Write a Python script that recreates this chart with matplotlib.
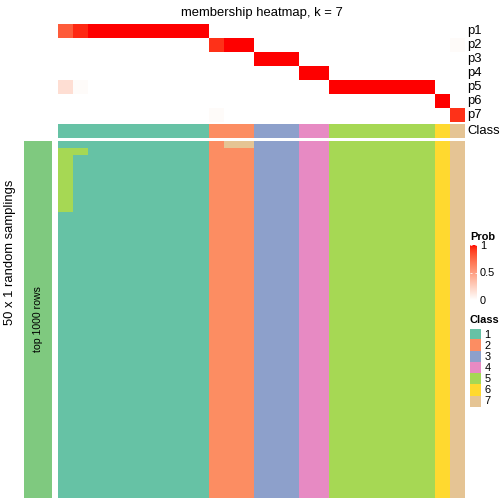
import numpy as np
import matplotlib
matplotlib.use("Agg")
import matplotlib.pyplot as plt
from matplotlib.colors import ListedColormap

plt.rcParams['font.family'] = ['Liberation Sans', 'DejaVu Sans']

# class of each column (27 samples)
col_class = [1] * 10 + [2] * 3 + [3] * 3 + [4] * 2 + [5] * 7 + [6] + [7]

# membership probabilities, one row per class
p1 = [0.80, 0.95, 1, 1, 1, 1, 1, 1, 1, 1, 0, 0, 0, 0, 0, 0, 0, 0, 0, 0, 0, 0, 0, 0, 0, 0, 0]
p2 = [0, 0, 0, 0, 0, 0, 0, 0, 0, 0, 0.93, 1, 1, 0, 0, 0, 0, 0, 0, 0, 0, 0, 0, 0, 0, 0, 0.02]
p3 = [0, 0, 0, 0, 0, 0, 0, 0, 0, 0, 0, 0, 0, 1, 1, 1, 0, 0, 0, 0, 0, 0, 0, 0, 0, 0, 0]
p4 = [0, 0, 0, 0, 0, 0, 0, 0, 0, 0, 0, 0, 0, 0, 0, 0, 1, 1, 0, 0, 0, 0, 0, 0, 0, 0, 0]
p5 = [0.17, 0.02, 0, 0, 0, 0, 0, 0, 0, 0, 0, 0, 0, 0, 0, 0, 0, 0, 1, 1, 1, 1, 1, 1, 1, 0, 0]
p6 = [0, 0, 0, 0, 0, 0, 0, 0, 0, 0, 0, 0, 0, 0, 0, 0, 0, 0, 0, 0, 0, 0, 0, 0, 0, 1, 0]
p7 = [0, 0, 0, 0, 0, 0, 0, 0, 0, 0, 0.02, 0, 0, 0, 0, 0, 0, 0, 0, 0, 0, 0, 0, 0, 0, 0, 0.93]
row_labels = ["p1", "p2", "p3", "p4", "p5", "p6", "p7"]

# 50 random samplings; they agree with col_class except these (row, col, class)
n_samplings = 50
sampling_changes = [(0, 11, 7), (0, 12, 7), (1, 1, 5)] + [(r, 0, 5) for r in range(1, 10)]

class_colors = ["#66C2A5", "#FC8D62", "#8DA0CB", "#E78AC3", "#A6D854", "#FFD92F", "#E5C494"]
group_color = "#7FC97F"


def lab_ramp(n=256):
    # white -> red interpolated in CIE Lab, like colorRamp2
    lab0 = np.array([100.0, 0.0, 0.0])
    lab1 = np.array([53.24, 80.09, 67.20])
    t = np.linspace(0, 1, n)[:, None]
    lab = lab0 + (lab1 - lab0) * t
    fy = (lab[:, 0] + 16) / 116
    fx = fy + lab[:, 1] / 500
    fz = fy - lab[:, 2] / 200
    xyz = np.stack([0.95047 * fx ** 3, fy ** 3, 1.08883 * fz ** 3], axis=1)
    m = np.array([[3.2406, -1.5372, -0.4986],
                  [-0.9689, 1.8758, 0.0415],
                  [0.0557, -0.2040, 1.0570]])
    rgb = np.clip(xyz @ m.T, 0, 1)
    rgb = np.where(rgb > 0.0031308, 1.055 * rgb ** (1 / 2.4) - 0.055, 12.92 * rgb)
    rgb = np.clip(rgb, 0, 1)
    rgb[0] = 1.0
    return ListedColormap(rgb)


W, H = 504, 504
fig = plt.figure(figsize=(W / 72, H / 72), dpi=72)


def box(x0, y0, x1, y1):
    return fig.add_axes([x0 / W, 1 - y1 / H, (x1 - x0) / W, (y1 - y0) / H])


prob_cmap = lab_ramp()
class_cmap = ListedColormap(class_colors)
membership = np.array([p1, p2, p3, p4, p5, p6, p7])
classes = np.array(col_class)

# membership heatmap
ax = box(58, 24, 465, 122)
ax.imshow(membership, cmap=prob_cmap, vmin=0, vmax=1, aspect='auto', interpolation='nearest')
ax.set_axis_off()
for i, lab in enumerate(row_labels):
    ax.text(1.006, 1 - (i + 0.5) / len(row_labels), lab, transform=ax.transAxes,
            ha='left', va='center', fontsize=13)
ax.set_title("membership heatmap, k = 7", fontsize=13, pad=8)

# class annotation bar
ax = box(58, 124, 465, 138)
ax.imshow(classes[None, :], cmap=class_cmap, vmin=0.5, vmax=7.5, aspect='auto', interpolation='nearest')
ax.set_axis_off()
ax.text(1.006, 0.5, "Class", transform=ax.transAxes, ha='left', va='center', fontsize=13)

# random samplings
samplings = np.tile(classes, (n_samplings, 1))
for r, c, k in sampling_changes:
    samplings[r, c] = k
ax = box(58, 141, 465, 498)
ax.imshow(samplings, cmap=class_cmap, vmin=0.5, vmax=7.5, aspect='auto', interpolation='nearest')
ax.set_axis_off()

# row group bar
ax = box(24, 141, 52, 498)
ax.set_facecolor(group_color)
ax.set_xticks([])
ax.set_yticks([])
for s in ax.spines.values():
    s.set_visible(False)
ax.text(0.5, 0.5, "top 1000 rows", transform=ax.transAxes, rotation=90,
        ha='center', va='center', fontsize=10.5)
fig.text(10.5 / W, 1 - 252 / H, "50 x 1 random samplings", rotation=90,
         ha='center', va='center', fontsize=13)

# Prob colorbar
cax = box(470, 245, 477, 300)
cax.imshow(np.linspace(1, 0, 256)[:, None], cmap=prob_cmap, aspect='auto',
           extent=[0, 1, 0, 1], vmin=0, vmax=1)
cax.set_xticks([])
cax.set_yticks([0, 0.5, 1])
cax.set_yticklabels(["0", "0.5", "1"], fontsize=11)
cax.yaxis.tick_right()
cax.tick_params(axis='y', direction='in', length=2, color='white', left=True, right=True,
                labelleft=False, labelright=True, pad=3)
for s in cax.spines.values():
    s.set_visible(False)
fig.text(470 / W, 1 - 237 / H, "Prob", fontsize=11, fontweight='bold', ha='left', va='center')

# Class legend
fig.text(470 / W, 1 - 320 / H, "Class", fontsize=11, fontweight='bold', ha='left', va='center')
lax = box(470, 329, 481, 407)
lax.imshow(np.arange(1, 8)[:, None], cmap=class_cmap, vmin=0.5, vmax=7.5, aspect='auto',
           interpolation='nearest')
lax.set_axis_off()
for i in range(7):
    lax.text(1.3, 1 - (i + 0.5) / 7, str(i + 1), transform=lax.transAxes,
             ha='left', va='center', fontsize=11)

fig.savefig("out.png", dpi=72)
